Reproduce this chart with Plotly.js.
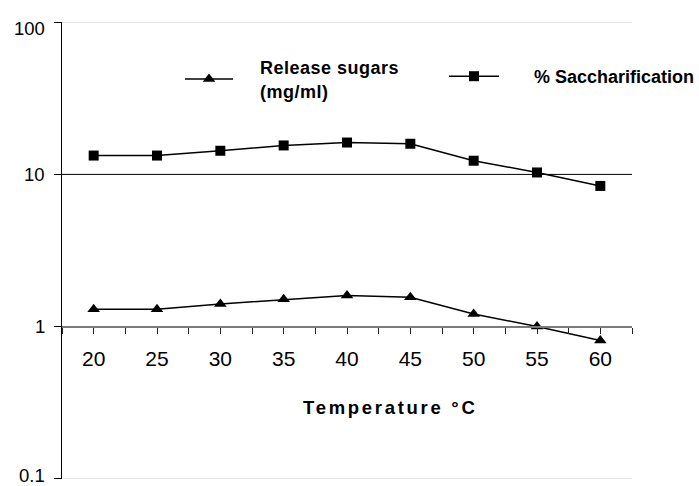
<!DOCTYPE html>
<html>
<head>
<meta charset="utf-8">
<script src="https://cdn.plot.ly/plotly-3.0.1.min.js"></script>
<style>
  html, body { margin: 0; padding: 0; background: #fff; }
  #chart { width: 699px; height: 486px; }
  .legendtext { letter-spacing: 0.5px; }
  .annotation-text.title-ann { letter-spacing: 2.7px; }
</style>
</head>
<body>
<div id="chart"></div>
<script>
const temperatures = [20, 25, 30, 35, 40, 45, 50, 55, 60];
const releaseSugars = [1.30, 1.30, 1.41, 1.51, 1.60, 1.56, 1.21, 1.00, 0.81];
const saccharification = [13.3, 13.3, 14.3, 15.5, 16.2, 15.9, 12.3, 10.3, 8.4];
const yTickVals = [0.1, 1, 10, 100];
const yTickText = ['0.1', '1', '10', '100'];
const xTickText = temperatures.map(String);
const seriesNames = ['Release sugars<br>(mg/ml)', '% Saccharification'];
const xTitle = 'Temperature\u00a0°C';

const FONT = 'Liberation Sans, Arial, sans-serif';
const pad = n => '\u00a0'.repeat(n);
const padLines = (s, n) => s.split('<br>').map(t => pad(n) + t).join('<br>');

const traces = [
  {
    x: temperatures, y: releaseSugars, type: 'scatter', mode: 'lines+markers',
    name: padLines(seriesNames[0], 4), legend: 'legend',
    line: { color: '#000', width: 1.5 },
    marker: { symbol: 'triangle-up', size: 11, color: '#000' },
    cliponaxis: false
  },
  {
    x: temperatures, y: saccharification, type: 'scatter', mode: 'lines+markers',
    name: padLines(seriesNames[1], 6), legend: 'legend2',
    line: { color: '#000', width: 1.5 },
    marker: { symbol: 'square', size: 10, color: '#000' },
    cliponaxis: false
  }
];

const EPS = 0.0015;
const gridLine = (v, color) => ({
  type: 'line', xref: 'paper', yref: 'y', x0: 0, x1: 1, y0: v, y1: v,
  line: { color: color, width: 1 }, layer: 'above'
});

// y tick labels drawn as annotations so the edge labels stay inside the picture
const yLabelShift = { '100': -6, '0.1': 3 };
const yLabels = yTickVals.map((v, i) => ({
  text: yTickText[i], xref: 'paper', yref: 'y', x: 0, y: Math.log10(v),
  xanchor: 'right', yanchor: 'middle', xshift: -15, yshift: yLabelShift[yTickText[i]] || 0,
  showarrow: false, font: { family: FONT, size: 18.5, color: '#000' }
}));

const layout = {
  width: 699, height: 486,
  margin: { l: 62, r: 67, t: 22, b: 7, autoexpand: false },
  paper_bgcolor: '#fff', plot_bgcolor: '#fff',
  font: { family: FONT, color: '#000' },
  xaxis: {
    type: 'linear', range: [17.5, 62.5],
    anchor: 'free', position: (0 + 1 + EPS) / (3 + 2 * EPS),
    tickvals: temperatures, ticktext: xTickText,
    ticks: 'outside', ticklen: 6, tickwidth: 1, tickcolor: '#222',
    minor: { tick0: 22.5, dtick: 5, ticks: 'outside', ticklen: 6, tickwidth: 1, tickcolor: '#222' },
    showline: true, linecolor: '#7a7a7a', linewidth: 2,
    showgrid: false, zeroline: false,
    tickfont: { family: FONT, size: 21, color: '#000' },
    ticklabelstandoff: 7
  },
  yaxis: {
    type: 'log', range: [-1 - EPS, 2 + EPS], domain: [0, 1],
    tickvals: yTickVals, showticklabels: false,
    ticks: 'outside', ticklen: 7, tickwidth: 1, tickcolor: '#000',
    showline: true, linecolor: '#000', linewidth: 1,
    showgrid: false, zeroline: false
  },
  shapes: [
    gridLine(100, '#dcdcdc'),
    gridLine(0.1, '#dcdcdc'),
    gridLine(10, '#000')
  ],
  annotations: yLabels.concat([
    { text: xTitle, xref: 'paper', yref: 'paper',
      x: (390 - 62) / 570, y: 1 - (407 - 22) / 457, xanchor: 'center', yanchor: 'middle', showarrow: false,
      font: { family: FONT, size: 18.5, weight: 'bold', color: '#000' } }
  ]),
  showlegend: true,
  legend: {
    orientation: 'v', x: (180 - 62) / 570, y: 1 - (49 - 22) / 457,
    xanchor: 'left', yanchor: 'top', valign: 'middle',
    itemwidth: 48, bgcolor: 'rgba(0,0,0,0)', borderwidth: 0,
    font: { family: FONT, size: 18, weight: 'bold', color: '#000' }
  },
  legend2: {
    orientation: 'v', x: (444 - 62) / 570, y: 1 - (58 - 22) / 457,
    xanchor: 'left', yanchor: 'top', valign: 'middle',
    itemwidth: 50, bgcolor: 'rgba(0,0,0,0)', borderwidth: 0,
    font: { family: FONT, size: 18, weight: 'bold', color: '#000' }
  }
};

Plotly.newPlot('chart', traces, layout, { displayModeBar: false, staticPlot: true }).then(gd => {
  // widen letter spacing of the axis title only, then re-layout so centring stays right
  const anns = gd.querySelectorAll('.annotation-text');
  anns.forEach(el => { if (el.textContent.indexOf('Temperature') === 0) el.classList.add('title-ann'); });
});
</script>
</body>
</html>
